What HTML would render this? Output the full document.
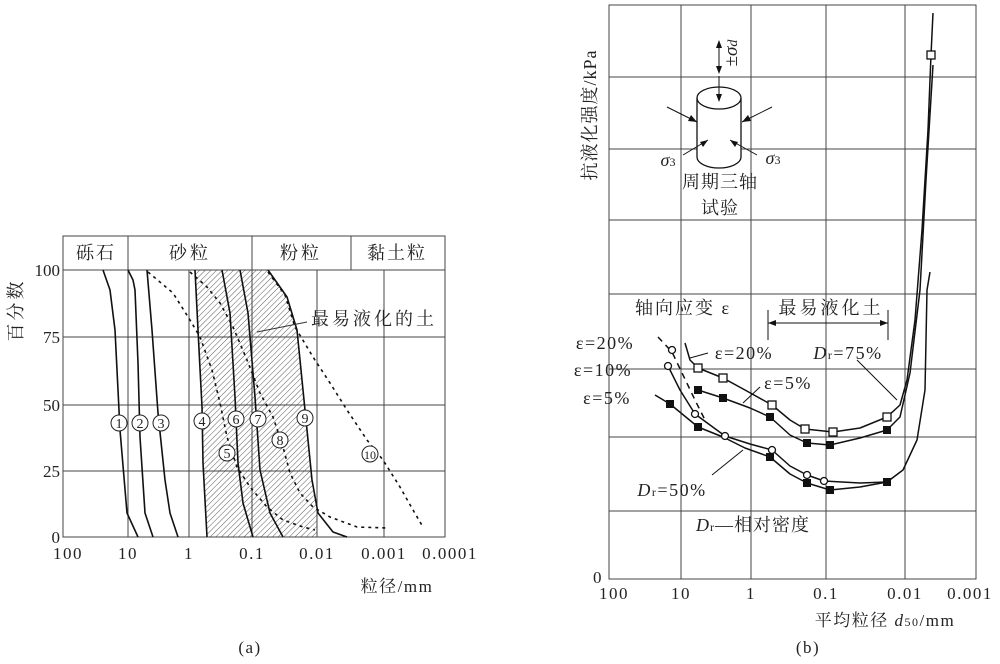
<!DOCTYPE html>
<html><head><meta charset="utf-8"><style>
body{margin:0;background:#fff}
svg text{font-family:"Liberation Serif","Noto Serif CJK SC",serif;fill:#222}
</style></head><body>
<svg width="1000" height="659" viewBox="0 0 1000 659" xmlns="http://www.w3.org/2000/svg">
<defs>
<pattern id="h" patternUnits="userSpaceOnUse" width="4" height="4" patternTransform="rotate(45)">
<line x1="0" y1="0" x2="0" y2="4" stroke="#333" stroke-width="0.8"/>
</pattern>
</defs>
<!-- LEFT CHART -->
<g stroke="#444" stroke-width="1" fill="none">
<rect x="63" y="236" width="382" height="301"/>
<line x1="63" y1="270" x2="445" y2="270"/>
<line x1="63" y1="337" x2="445" y2="337"/>
<line x1="63" y1="405" x2="445" y2="405"/>
<line x1="63" y1="471" x2="445" y2="471"/>
<line x1="128" y1="236" x2="128" y2="537"/>
<line x1="189" y1="270" x2="189" y2="537"/>
<line x1="252" y1="236" x2="252" y2="537"/>
<line x1="317" y1="270" x2="317" y2="537"/>
<line x1="351" y1="236" x2="351" y2="270"/>
<line x1="384" y1="270" x2="384" y2="537"/>
</g>
<path d="M195,270 L198,330 L202,407 L203,463 L207,537 L317,537 L317,510 L312,480 L307,430 L302,380 L297,330 L287,297 L268,270 Z" fill="url(#h)"/>
<g stroke="#111" stroke-width="1.6" fill="none" stroke-linejoin="round">
<polyline points="103,270 110,290 115,330 120,430 127,513 138,537"/>
<polyline points="128,270 133,280 135,290 138,363 140,437 145,513 153,537"/>
<polyline points="147,270 152,330 158,413 165,480 170,513 178,537"/>
<polyline points="195,270 198,330 202,407 203,463 207,537"/>
<polyline points="222,270 230,313 235,397 238,463 243,503 253,537"/>
<polyline points="240,270 248,313 255,397 260,470 270,513 283,537"/>
<polyline points="268,270 287,297 297,330 302,380 307,430 312,480 318,513 333,532 347,537"/>
</g>
<g stroke="#111" stroke-width="1.6" fill="none" stroke-dasharray="3,4">
<polyline points="148,272 173,293 190,320 200,337 212,370 220,403 227,437 237,467 250,487 267,507 283,520 303,527 315,530"/>
<polyline points="190,272 207,287 220,303 233,327 247,360 260,393 273,417 283,447 290,473 300,493 313,507 330,517 357,527 387,528"/>
<polyline points="268,272 285,295 295,327 313,357 330,383 347,410 367,440 383,460 400,487 413,510 423,527"/>
</g>
<line x1="257" y1="332" x2="307" y2="322" stroke="#333" stroke-width="1"/>
<g font-size="18">
<text x="96" y="259" text-anchor="middle" letter-spacing="2">砾石</text>
<text x="190" y="259" text-anchor="middle" letter-spacing="3">砂粒</text>
<text x="301" y="259" text-anchor="middle" letter-spacing="3">粉粒</text>
<text x="397" y="259" text-anchor="middle" letter-spacing="2">黏土粒</text>
<text x="374" y="325" text-anchor="middle" letter-spacing="3">最易液化的土</text>
</g>
<g font-size="17" text-anchor="end">
<text x="60" y="276">100</text><text x="60" y="343">75</text><text x="60" y="411">50</text><text x="60" y="477">25</text><text x="60" y="543">0</text>
</g>
<g font-size="17" text-anchor="middle" letter-spacing="1.5">
<text x="68" y="559">100</text><text x="128" y="559">10</text><text x="189" y="559">1</text><text x="252" y="559">0.1</text><text x="317" y="559">0.01</text><text x="384" y="559">0.001</text><text x="450" y="559">0.0001</text>
<text x="397" y="592">粒径/mm</text>
<text x="250" y="653">(a)</text>
</g>
<text transform="translate(22,310) rotate(-90)" font-size="18" text-anchor="middle" letter-spacing="3">百分数</text>
<g stroke="#222" stroke-width="1" fill="#fff">
<circle cx="119" cy="423" r="8"/><circle cx="140" cy="423" r="8"/><circle cx="161" cy="423" r="8"/><circle cx="202" cy="421" r="8"/><circle cx="227" cy="453" r="8"/><circle cx="236" cy="419" r="8"/><circle cx="258" cy="419" r="8"/><circle cx="280" cy="440" r="8"/><circle cx="305" cy="418" r="8"/><circle cx="370" cy="454" r="8"/>
</g>
<g font-size="14" text-anchor="middle">
<text x="119" y="428">1</text><text x="140" y="428">2</text><text x="161" y="428">3</text><text x="202" y="426">4</text><text x="227" y="458">5</text><text x="236" y="424">6</text><text x="258" y="424">7</text><text x="280" y="445">8</text><text x="305" y="423">9</text><text x="370" y="459" font-size="12">10</text>
</g>
<!-- RIGHT CHART -->
<g stroke="#444" stroke-width="1" fill="none">
<rect x="609" y="5" width="367" height="574"/>
<line x1="609" y1="77" x2="976" y2="77"/><line x1="609" y1="149" x2="976" y2="149"/><line x1="609" y1="220" x2="976" y2="220"/><line x1="609" y1="294" x2="976" y2="294"/><line x1="609" y1="369" x2="976" y2="369"/><line x1="609" y1="437" x2="976" y2="437"/><line x1="609" y1="511" x2="976" y2="511"/>
<line x1="681" y1="5" x2="681" y2="579"/><line x1="751" y1="5" x2="751" y2="579"/><line x1="826" y1="5" x2="826" y2="579"/><line x1="905" y1="5" x2="905" y2="579"/>
</g>
<g stroke="#111" stroke-width="1.3" fill="#fff">
<path d="M697,98 L697,157 A22,11 0 0 0 741,157 L741,98"/>
<ellipse cx="719" cy="98" rx="22" ry="11"/>
</g>
<g stroke="#111" stroke-width="1" fill="none">
<line x1="719" y1="42" x2="719" y2="72"/><line x1="719" y1="76" x2="719" y2="101"/>
<line x1="667" y1="107" x2="697" y2="122"/><line x1="772" y1="107" x2="742" y2="122"/>
<line x1="683" y1="155" x2="708" y2="140"/><line x1="757" y1="155" x2="730" y2="140"/>
</g>
<g fill="#111">
<polygon points="719,40 716,48 722,48"/><polygon points="719,74 716,66 722,66"/><polygon points="719,102 716,94 722,94"/>
<polygon points="697,122 688,121 691,115"/><polygon points="742,122 751,121 748,115"/>
<polygon points="708,140 703,147 700,142"/><polygon points="730,140 735,147 738,142"/>
</g>
<text transform="translate(737,53) rotate(-90)" font-size="19" text-anchor="middle">±<tspan font-style="italic">σ</tspan><tspan font-style="italic" font-size="14">d</tspan></text>
<text x="668" y="166" font-size="18" text-anchor="middle" font-style="italic">σ<tspan font-size="12" font-style="normal">3</tspan></text>
<text x="773" y="164" font-size="18" text-anchor="middle" font-style="italic">σ<tspan font-size="12" font-style="normal">3</tspan></text>
<g font-size="18" text-anchor="middle">
<text x="720" y="188" letter-spacing="1">周期三轴</text><text x="720" y="214" letter-spacing="1">试验</text>
<text x="683" y="314" letter-spacing="2">轴向应变 ε</text><text x="831" y="314" letter-spacing="3">最易液化土</text>
<text x="605" y="349" letter-spacing="1.5">ε=20%</text><text x="603" y="376" letter-spacing="1.5">ε=10%</text><text x="607" y="404" letter-spacing="1.5">ε=5%</text>
<text x="744" y="359" letter-spacing="1.5">ε=20%</text><text x="788" y="389" letter-spacing="1.5">ε=5%</text>
<text x="848" y="359" letter-spacing="1.5"><tspan font-style="italic">D</tspan><tspan font-size="12">r</tspan>=75%</text>
<text x="672" y="496" letter-spacing="1.5"><tspan font-style="italic">D</tspan><tspan font-size="12">r</tspan>=50%</text>
<text x="753" y="531" letter-spacing="1"><tspan font-style="italic">D</tspan><tspan font-size="12">r</tspan>—相对密度</text>
</g>
<text transform="translate(596,115) rotate(-90)" font-size="18" text-anchor="middle" letter-spacing="1">抗液化强度/kPa</text>
<g stroke="#111" stroke-width="1" fill="none">
<line x1="768" y1="323" x2="888" y2="323"/><line x1="768" y1="310" x2="768" y2="340"/><line x1="888" y1="310" x2="888" y2="340"/>
<line x1="857" y1="360" x2="897" y2="400"/><line x1="708" y1="353" x2="690" y2="358"/><line x1="760" y1="387" x2="743" y2="403"/><line x1="712" y1="475" x2="743" y2="450"/>
</g>
<polygon points="768,323 776,320 776,326" fill="#111"/><polygon points="888,323 880,320 880,326" fill="#111"/>
<g stroke="#111" stroke-width="1.5" fill="none" stroke-linejoin="round">
<polyline points="685,343 690,360 698,368 723,378 745,390 772,405 790,420 805,429 833,432 860,428 887,417 900,405 907,380 915,320 922,230 928,130 931,55 933,13"/>
<polyline points="698,390 723,398 750,408 770,417 790,435 807,443 830,445 860,438 887,430 900,417 910,373 920,290 926,180 933,65"/>
<polyline points="655,395 670,404 698,427 723,437 745,448 770,457 790,474 807,483 830,490 860,487 887,482 903,470 917,440 925,390 927,290 930,272"/>
<polyline points="668,366 680,390 695,414 725,436 750,444 772,450 790,466 807,475 824,481 860,483 887,482"/>
</g>
<polyline points="658,337 672,352 683,375 695,400 705,420" stroke="#111" stroke-width="1.5" fill="none" stroke-dasharray="6,5"/>
<g stroke="#111" stroke-width="1.3" fill="#fff">
<rect x="694" y="364" width="8" height="8"/><rect x="719" y="374" width="8" height="8"/><rect x="768" y="401" width="8" height="8"/><rect x="801" y="425" width="8" height="8"/><rect x="829" y="428" width="8" height="8"/><rect x="883" y="413" width="8" height="8"/><rect x="927" y="51" width="8" height="8"/>
<circle cx="668" cy="366" r="3.5"/><circle cx="672" cy="350" r="3.5"/><circle cx="695" cy="414" r="3.5"/><circle cx="725" cy="436" r="3.5"/><circle cx="772" cy="450" r="3.5"/><circle cx="807" cy="475" r="3.5"/><circle cx="824" cy="481" r="3.5"/>
</g>
<g fill="#111">
<rect x="694" y="386" width="8" height="8"/><rect x="719" y="394" width="8" height="8"/><rect x="766" y="413" width="8" height="8"/><rect x="803" y="439" width="8" height="8"/><rect x="826" y="441" width="8" height="8"/><rect x="883" y="426" width="8" height="8"/>
<rect x="666" y="400" width="8" height="8"/><rect x="694" y="423" width="8" height="8"/><rect x="766" y="453" width="8" height="8"/><rect x="803" y="479" width="8" height="8"/><rect x="826" y="486" width="8" height="8"/><rect x="883" y="478" width="8" height="8"/>
</g>
<g font-size="17" text-anchor="middle" letter-spacing="1.5">
<text x="598" y="583">0</text>
<text x="614" y="599">100</text><text x="681" y="599">10</text><text x="751" y="599">1</text><text x="826" y="599">0.1</text><text x="905" y="599">0.01</text><text x="970" y="599">0.001</text>
<text x="885" y="626">平均粒径 <tspan font-style="italic">d</tspan><tspan font-size="12">50</tspan>/mm</text>
<text x="808" y="653">(b)</text>
</g>
</svg>
</body></html>
